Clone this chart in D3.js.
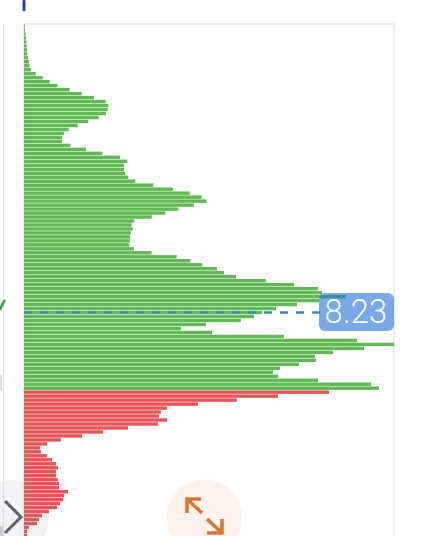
<!DOCTYPE html>
<html>
<head>
<meta charset="utf-8">
<style>
  html, body { margin: 0; padding: 0; background: #fff; overflow: hidden; }
  svg { display: block; filter: blur(0.4px); }
</style>
<script src="https://cdn.jsdelivr.net/npm/d3@7"></script>
</head>
<body>
<div id="chart"></div>
<script>
// volume at each price level, top of the chart down
const buyVolume = [
  0.7, 1, 1.5, 2, 2.3, 2.7, 3, 3.3, 4, 5, 5.5, 7,
  11.7, 18.7, 25.7, 33.3, 45.7, 57.7, 70, 81.7, 84.3, 83.7, 82, 74.7, 64.3, 53.7,
  44.7, 40, 38.3, 38, 46.3, 62, 78.3, 96, 103.3, 100, 100.3, 101, 104.3, 111.3,
  129.3, 149, 165.7, 177.7, 182.7, 170, 154.3, 141.3, 127.7, 110.3, 107.7, 108.7,
  106.7, 106, 105.7, 105.3, 110, 127.7, 152.7, 166.3, 178.3, 193, 200, 212, 242,
  270, 294, 298, 322, 295, 273, 252, 238, 230, 217, 182, 157, 188, 260, 333, 370,
  340, 309, 291, 292, 275, 256, 249, 254, 294, 347, 355
]
const sellVolume = [
  305, 254, 213, 174, 143, 137, 135, 143, 134, 104, 79, 58, 37, 23, 16, 17, 23, 28,
  32, 34, 32, 32, 34, 35, 35, 44, 40, 39, 36, 33, 25, 18, 15, 13, 5, 3, 3
]
const lastPrice = "8.23"
const lastPriceRow = 72

const width = 425
const height = 536
const plotLeft = 24
const plotRight = 394
const plotTop = 24
const rowStep = 3.98

const rows = buyVolume.map(v => ({volume: v, side: "buy"}))
  .concat(sellVolume.map(v => ({volume: v, side: "sell"})))

const svg = d3.select("#chart")
  .append("svg")
  .attr("width", width)
  .attr("height", height)
  .attr("viewBox", [0, 0, width, height])

const x = d3.scaleLinear()
  .domain([0, d3.max(rows, d => d.volume)])
  .range([plotLeft, plotRight])

const y = d3.scaleBand()
  .domain(d3.range(rows.length))
  .range([plotTop, plotTop + rows.length * rowStep])
  .paddingInner(0.14)
  .paddingOuter(0.07)

const color = {buy: "#62b854", sell: "#e55658"}

// neighbouring panel, cut off at the left edge
svg.append("line")
  .attr("x1", 3.5).attr("x2", 3.5)
  .attr("y1", 24).attr("y2", height)
  .attr("stroke", "#e8e8ea")

svg.append("path")
  .attr("d", "M0,310 Q2,304 5,300")
  .attr("fill", "none")
  .attr("stroke", "#3f9a46")
  .attr("stroke-width", 2.5)

svg.append("rect")
  .attr("x", 0).attr("y", 375)
  .attr("width", 2).attr("height", 15)
  .attr("fill", "#d4e6d1")

svg.append("rect")
  .attr("x", 22.5).attr("y", 0)
  .attr("width", 3).attr("height", 11)
  .attr("rx", 1)
  .attr("fill", "#2b4196")

// plot frame
svg.append("rect")
  .attr("x", plotLeft).attr("y", plotTop)
  .attr("width", plotRight - plotLeft)
  .attr("height", height - plotTop + 4)
  .attr("fill", "#fff")
  .attr("stroke", "#dcdcde")

svg.append("g")
  .selectAll("rect")
  .data(rows)
  .join("rect")
    .attr("x", plotLeft)
    .attr("y", (d, i) => y(i))
    .attr("width", d => x(d.volume) - plotLeft)
    .attr("height", y.bandwidth())
    .attr("fill", d => color[d.side])

// last price line and label
const priceY = y(lastPriceRow) + y.bandwidth() / 2

svg.append("line")
  .attr("x1", plotLeft).attr("x2", 320)
  .attr("y1", priceY).attr("y2", priceY)
  .attr("stroke", "#3f86bd")
  .attr("stroke-width", 2.5)
  .attr("stroke-dasharray", "8 8")

svg.append("rect")
  .attr("x", 319).attr("y", 293)
  .attr("width", 75).attr("height", 38)
  .attr("rx", 6)
  .attr("fill", "#2170dc")
  .attr("fill-opacity", 0.6)

svg.append("text")
  .attr("x", 356).attr("y", 323)
  .attr("text-anchor", "middle")
  .attr("font-family", "Roboto, sans-serif")
  .attr("font-weight", 300)
  .attr("font-size", 33)
  .attr("fill", "#fff")
  .text(lastPrice)

// floating buttons
svg.append("circle")
  .attr("cx", 12).attr("cy", 517).attr("r", 37)
  .attr("fill", "#8a8a9a")
  .attr("fill-opacity", 0.1)

svg.append("rect")
  .attr("x", 0).attr("y", 526)
  .attr("width", 3).attr("height", 10)
  .attr("fill", "#c9c9d0")

svg.append("path")
  .attr("d", "M5,501 L21,517 L5,533")
  .attr("fill", "none")
  .attr("stroke", "#5f6064")
  .attr("stroke-width", 3)

svg.append("circle")
  .attr("cx", 204.5).attr("cy", 517).attr("r", 37.5)
  .attr("fill", "#fef2ed")

svg.append("path")
  .attr("d", "M187,513 L187,499 L201,499 M187,499 L202,513 M222,519 L222,533 L207,533 M222,533 L207,519")
  .attr("fill", "none")
  .attr("stroke", "#dd7330")
  .attr("stroke-width", 3.5)
</script>
</body>
</html>
